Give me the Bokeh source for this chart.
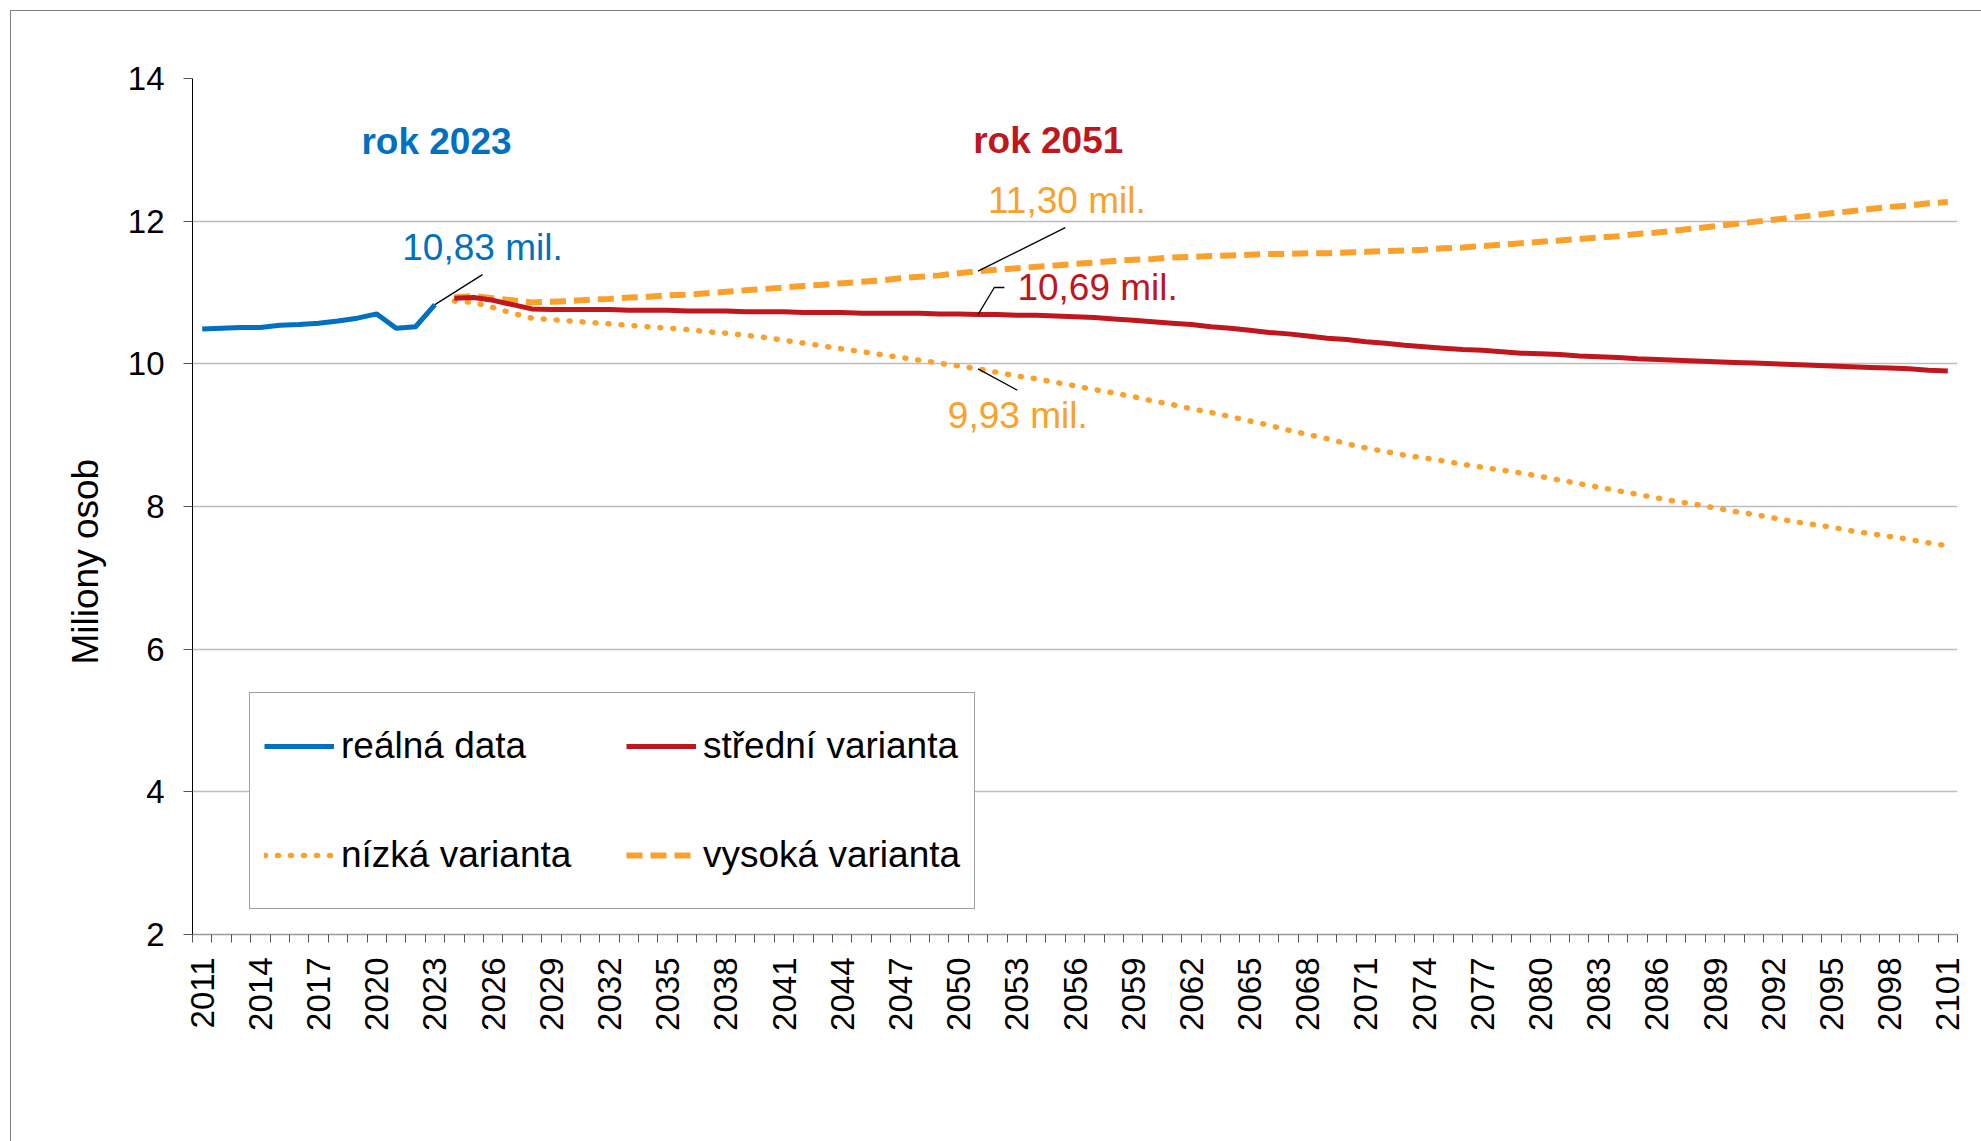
import numpy as np
from bokeh.plotting import figure
from bokeh.models import (Range1d, FixedTicker, Legend, LegendItem, Label, Title)
from bokeh.embed import file_html
from bokeh.resources import INLINE

# ---------------- data ----------------
real_years = list(range(2011, 2024))
real_vals = [10.49, 10.50, 10.51, 10.51, 10.54, 10.55, 10.57, 10.60, 10.64, 10.70,
             10.50, 10.52, 10.83]

proj_years = list(range(2024, 2102))
mid_vals = [10.92, 10.93, 10.89, 10.83, 10.77, 10.76, 10.76, 10.76, 10.76, 10.75,
            10.75, 10.75, 10.74, 10.74, 10.74, 10.73, 10.73, 10.73, 10.72, 10.72,
            10.72, 10.71, 10.71, 10.71, 10.71, 10.70, 10.70, 10.69, 10.69, 10.68,
            10.68, 10.67, 10.66, 10.65, 10.63, 10.61, 10.59, 10.57, 10.55, 10.52,
            10.50, 10.47, 10.44, 10.42, 10.39, 10.36, 10.34, 10.31, 10.29, 10.26,
            10.24, 10.22, 10.20, 10.19, 10.17, 10.15, 10.14, 10.13, 10.11, 10.10,
            10.09, 10.07, 10.06, 10.05, 10.04, 10.03, 10.02, 10.01, 10.00, 9.99,
            9.98, 9.97, 9.96, 9.95, 9.94, 9.93, 9.91, 9.90]
high_vals = [10.93, 10.95, 10.92, 10.89, 10.86, 10.87, 10.88, 10.90, 10.91, 10.93,
             10.94, 10.96, 10.97, 10.99, 11.01, 11.03, 11.05, 11.07, 11.09, 11.11,
             11.13, 11.15, 11.17, 11.20, 11.22, 11.24, 11.27, 11.30, 11.32, 11.34,
             11.36, 11.38, 11.40, 11.42, 11.44, 11.46, 11.47, 11.49, 11.50, 11.51,
             11.52, 11.53, 11.54, 11.54, 11.55, 11.55, 11.56, 11.57, 11.58, 11.59,
             11.60, 11.62, 11.63, 11.65, 11.67, 11.69, 11.71, 11.73, 11.75, 11.77,
             11.79, 11.82, 11.84, 11.87, 11.90, 11.93, 11.96, 11.99, 12.02, 12.05,
             12.08, 12.11, 12.14, 12.17, 12.20, 12.22, 12.25, 12.27]
low_vals = [10.88, 10.86, 10.79, 10.71, 10.64, 10.62, 10.60, 10.58, 10.56, 10.54,
            10.52, 10.50, 10.48, 10.45, 10.43, 10.40, 10.37, 10.33, 10.29, 10.25,
            10.21, 10.17, 10.13, 10.09, 10.05, 10.01, 9.97, 9.93, 9.88, 9.83,
            9.79, 9.74, 9.69, 9.64, 9.59, 9.54, 9.48, 9.43, 9.37, 9.32,
            9.26, 9.20, 9.14, 9.07, 9.01, 8.95, 8.88, 8.82, 8.77, 8.72,
            8.68, 8.64, 8.59, 8.55, 8.51, 8.47, 8.42, 8.37, 8.32, 8.27,
            8.22, 8.17, 8.12, 8.07, 8.03, 7.98, 7.93, 7.89, 7.84, 7.79,
            7.75, 7.71, 7.66, 7.62, 7.58, 7.54, 7.49, 7.45]

x_tick_years = list(range(2011, 2102, 3))
y_ticks = [2, 4, 6, 8, 10, 12, 14]

series_labels = ["reálná data", "střední varianta", "nízká varianta", "vysoká varianta"]
y_title = "Miliony osob"

BLUE = "#0070C0"
RED = "#C0171F"
ORANGE = "#F9A12A"
FONT = "Liberation Sans"

# ---------------- figure ----------------
p = figure(width=1971, height=1131, output_backend="svg", toolbar_location=None,
           x_range=Range1d(2010.5, 2101.5), y_range=Range1d(2, 14),
           min_border_left=181, min_border_right=25, min_border_top=67,
           min_border_bottom=208)
p.styles = {"border-top": "1px solid #7f7f7f", "border-left": "1px solid #7f7f7f",
            "margin-left": "10px", "margin-top": "10px"}
p.outline_line_color = None
p.background_fill_color = "white"
p.border_fill_color = "white"

# axes
p.xaxis.ticker = FixedTicker(ticks=x_tick_years,
                             minor_ticks=[y - 0.5 for y in range(2011, 2103)])
p.xaxis.major_label_orientation = np.pi / 2
p.xaxis.major_tick_line_color = None
p.xaxis.major_tick_out = 8
p.xaxis.major_tick_in = 0
p.xaxis.minor_tick_out = 8
p.xaxis.minor_tick_in = 0
p.xaxis.minor_tick_line_color = "#555555"
p.xaxis.axis_line_color = "#999999"
p.xaxis.axis_line_width = 1.5
p.xaxis.major_label_standoff = 15
p.xaxis.major_label_text_font = FONT
p.xaxis.major_label_text_font_size = "33px"
p.xaxis.major_label_text_color = "black"

p.yaxis.ticker = FixedTicker(ticks=y_ticks)
p.yaxis.major_tick_out = 9
p.yaxis.major_tick_in = 0
p.yaxis.major_tick_line_color = "#555555"
p.yaxis.minor_tick_line_color = None
p.yaxis.axis_line_color = "black"
p.yaxis.major_label_standoff = 19
p.yaxis.major_label_text_font = FONT
p.yaxis.major_label_text_font_size = "33px"
p.yaxis.major_label_text_color = "black"

p.xgrid.grid_line_color = None
p.ygrid.grid_line_color = "#bdbdbd"
p.ygrid.grid_line_width = 1.3

# y-axis title as a left-side title, placed lower than centre like the original
p.add_layout(Title(text=y_title, align="left", offset=270, standoff=37,
                   text_font=FONT, text_font_size="37px",
                   text_font_style="normal", text_color="black"), "left")

# ---------------- series ----------------
r_real = p.line(real_years, real_vals, line_color=BLUE, line_width=5, line_join="round")
r_low = p.line(proj_years, low_vals, line_color=ORANGE, line_width=5.5,
               line_dash="1 12", line_cap="round")
r_high = p.line(proj_years, high_vals, line_color=ORANGE, line_width=6,
                line_dash="16 8")
r_mid = p.line(proj_years, mid_vals, line_color=RED, line_width=5, line_join="round")

# ---------------- annotations ----------------
def leader(xs, ys):
    p.line(xs, ys, line_color="black", line_width=1.3)

y2023 = real_vals[real_years.index(2023)]
i51 = proj_years.index(2051)
hi51, mid51, lo51 = high_vals[i51], mid_vals[i51], low_vals[i51]

leader([2023, 2023 + 2.45], [y2023, y2023 + 0.42])
leader([2051, 2051 + 4.5], [hi51, hi51 + 0.61])
leader([2051, 2051 + 0.84, 2051 + 1.36], [mid51, mid51 + 0.38, mid51 + 0.38])
leader([2051, 2051 + 2.03], [lo51, lo51 - 0.30])

def lab(x, y, text, color, align="center", bold=False):
    p.add_layout(Label(x=x, y=y, text=text, text_color=color, text_font=FONT,
                       text_font_size="37px", text_align=align,
                       text_baseline="alphabetic",
                       text_font_style="bold" if bold else "normal"))

lab(2023.08, 13.12, "rok 2023", BLUE, bold=True)
lab(2054.62, 13.13, "rok 2051", RED, bold=True)
lab(2025.45, 11.63, "10,83 mil.", BLUE)
lab(2055.58, 12.29, "11,30 mil.", ORANGE)
lab(2053.03, 11.07, "10,69 mil.", RED, align="left")
lab(2053.05, 9.28, "9,93 mil.", ORANGE)

# ---------------- legend ----------------
legend = Legend(items=[LegendItem(label=series_labels[0], renderers=[r_real]),
                       LegendItem(label=series_labels[1], renderers=[r_mid]),
                       LegendItem(label=series_labels[2], renderers=[r_low]),
                       LegendItem(label=series_labels[3], renderers=[r_high])],
                location=(57, 25), orientation="horizontal", ncols=2,
                glyph_width=70, glyph_height=20, label_standoff=7,
                label_width=254, label_height=78, spacing=31, padding=14,
                margin=0,
                label_text_font=FONT, label_text_font_size="37px",
                label_text_color="black",
                border_line_color="#404040", border_line_width=1.3,
                background_fill_color="white", background_fill_alpha=1.0)
p.add_layout(legend, "center")

open("out.html", "w").write(file_html(p, INLINE))
